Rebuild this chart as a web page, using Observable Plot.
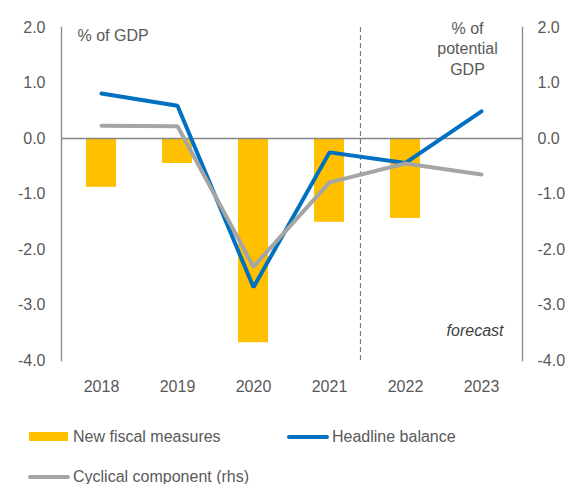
<!DOCTYPE html>
<html>
<head>
<meta charset="utf-8">
<script src="https://cdn.jsdelivr.net/npm/d3@7"></script>
<script src="https://cdn.jsdelivr.net/npm/@observablehq/plot@0.6"></script>
<style>
  html, body { margin: 0; padding: 0; background: #fff; }
  #wrap { position: relative; width: 568px; height: 484px; overflow: hidden; font-family: "Liberation Sans", Arial, sans-serif; color: #595959; }
  #chart { position: absolute; left: 0; top: 0; }
  .leg { position: absolute; font-size: 16px; line-height: 18px; white-space: nowrap; }
  .sw { position: absolute; }
</style>
</head>
<body>
<div id="wrap">
  <div id="chart"></div>
  <div class="sw" style="left:29px; top:432px; width:39px; height:9px; background:#FFC000;"></div>
  <div class="leg" style="left:73px; top:428px;">New fiscal measures</div>
  <div class="sw" style="left:287px; top:435px; width:42px; height:4px; border-radius:2px; background:#0070C0;"></div>
  <div class="leg" style="left:332px; top:428px;">Headline balance</div>
  <div class="sw" style="left:28px; top:475px; width:42px; height:4px; border-radius:2px; background:#A5A5A5;"></div>
  <div class="leg" style="left:73px; top:468px;">Cyclical component (rhs)</div>
</div>
<script>
const years = ["2018", "2019", "2020", "2021", "2022", "2023"];
const newFiscalMeasures = [-0.88, -0.45, -3.68, -1.51, -1.44, null];
const headlineBalance = [0.81, 0.59, -2.68, -0.25, -0.44, 0.49];
const cyclicalComponent = [0.23, 0.22, -2.31, -0.79, -0.45, -0.65];
const yTicks = [2, 1, 0, -1, -2, -3, -4];
const forecastStart = "2021";

const bars = years.map((y, i) => ({year: y, value: newFiscalMeasures[i]})).filter(d => d.value != null);
const headline = years.map((y, i) => ({year: y, value: headlineBalance[i]}));
const cyclical = years.map((y, i) => ({year: y, value: cyclicalComponent[i]}));

const axisColor = "#868686";
const textColor = "#595959";
const fmt = d => d.toFixed(1);

const chart = Plot.plot({
  width: 568,
  height: 400,
  marginLeft: 61,
  marginRight: 46,
  marginTop: 27,
  marginBottom: 40,
  style: {fontFamily: "Liberation Sans, Arial, sans-serif", fontSize: "16px", color: textColor, background: "#fff", overflow: "visible"},
  x: {domain: years, paddingInner: 0.6, paddingOuter: 0.3, label: null},
  y: {domain: [-4, 2], label: null},
  marks: [
    Plot.barY(bars, {x: "year", y: "value", fill: "#FFC000"}),
    Plot.ruleY([0], {stroke: axisColor, strokeWidth: 1.3}),
    Plot.ruleX([forecastStart], {dx: 31, y1: 2, y2: -4, stroke: "#7F7F7F", strokeWidth: 1.2, strokeDasharray: "5,3"}),
    Plot.lineY(headline, {x: "year", y: "value", stroke: "#0070C0", strokeWidth: 4, strokeLinecap: "round", strokeLinejoin: "miter"}),
    Plot.lineY(cyclical, {x: "year", y: "value", stroke: "#A5A5A5", strokeWidth: 4, strokeLinecap: "round", strokeLinejoin: "miter"}),
    Plot.axisY({anchor: "left", ticks: yTicks, tickFormat: fmt, tickSize: 0, tickPadding: 16, fill: textColor, fontSize: 16, label: null}),
    Plot.axisY({anchor: "right", ticks: yTicks, tickFormat: fmt, tickSize: 0, tickPadding: 15, fill: textColor, fontSize: 16, label: null}),
    Plot.axisX({tickSize: 0, tickPadding: 20, fill: textColor, fontSize: 16, label: null}),
    Plot.frame({anchor: "left", stroke: axisColor, strokeWidth: 1.3}),
    Plot.frame({anchor: "right", stroke: axisColor, strokeWidth: 1.3}),
    Plot.text(["% of GDP"], {frameAnchor: "top-left", dx: 16, dy: 8, textAnchor: "start", lineAnchor: "middle", fill: textColor, fontSize: 16}),
    Plot.text(["% of\npotential\nGDP"], {frameAnchor: "top-right", dx: -55, dy: 20, textAnchor: "middle", lineAnchor: "middle", lineHeight: 1.28, fill: textColor, fontSize: 16}),
    Plot.text(["forecast"], {frameAnchor: "bottom-right", dx: -19, dy: -30, textAnchor: "end", lineAnchor: "middle", fill: "#404040", fontSize: 16, fontStyle: "italic"})
  ]
});
document.getElementById("chart").appendChild(chart);
</script>
</body>
</html>
